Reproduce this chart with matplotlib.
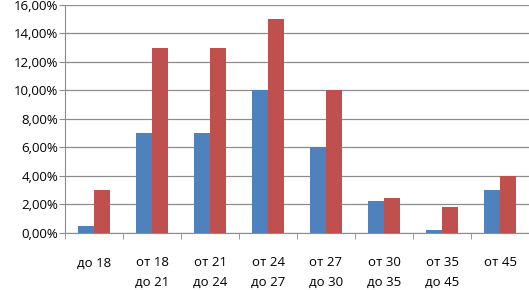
import numpy as np
import matplotlib.pyplot as plt
from matplotlib.ticker import FuncFormatter, MultipleLocator

plt.rcParams['font.family'] = ['Open Sans', 'DejaVu Sans']

categories = ['до 18', 'от 18\nдо 21', 'от 21\nдо 24', 'от 24\nдо 27',
              'от 27\nдо 30', 'от 30\nдо 35', 'от 35\nдо 45', 'от 45']
blue_vals = [0.5, 7, 7, 10, 6, 2.25, 0.2, 3.0]
red_vals = [3, 13, 13, 15, 10, 2.45, 1.8, 4.0]

fig = plt.figure(figsize=(5.29, 2.9), dpi=100)
ax = fig.add_axes([0.123, 0.197, 0.877, 0.786])

x = np.arange(len(categories))
w = 0.28
ax.bar(x - w / 2, blue_vals, width=w, color='#4F81BD', zorder=3)
ax.bar(x + w / 2, red_vals, width=w, color='#C0504D', zorder=3)

ax.set_xlim(-0.5, len(categories) - 0.5)
ax.set_ylim(0, 16)
ax.yaxis.set_major_locator(MultipleLocator(2))
ax.yaxis.set_major_formatter(FuncFormatter(lambda v, p: f'{v:.2f}%'.replace('.', ',')))
ax.yaxis.grid(True, color='#8c8c8c', linewidth=0.9, zorder=0)

ax.set_xticks(x)
ax.set_xticklabels(categories, fontsize=9.5, linespacing=1.6)
ax.set_xticks(np.arange(-0.5, len(categories)), minor=True)
ax.tick_params(axis='x', which='major', length=0, pad=17)
ax.tick_params(axis='x', which='minor', length=4, color='#8c8c8c')
ax.tick_params(axis='y', length=4, color='#8c8c8c', labelsize=9.5, pad=1)

for s in ['top', 'right']:
    ax.spines[s].set_visible(False)
for s in ['left', 'bottom']:
    ax.spines[s].set_color('#8c8c8c')

fig.savefig('out.png', dpi=100)
